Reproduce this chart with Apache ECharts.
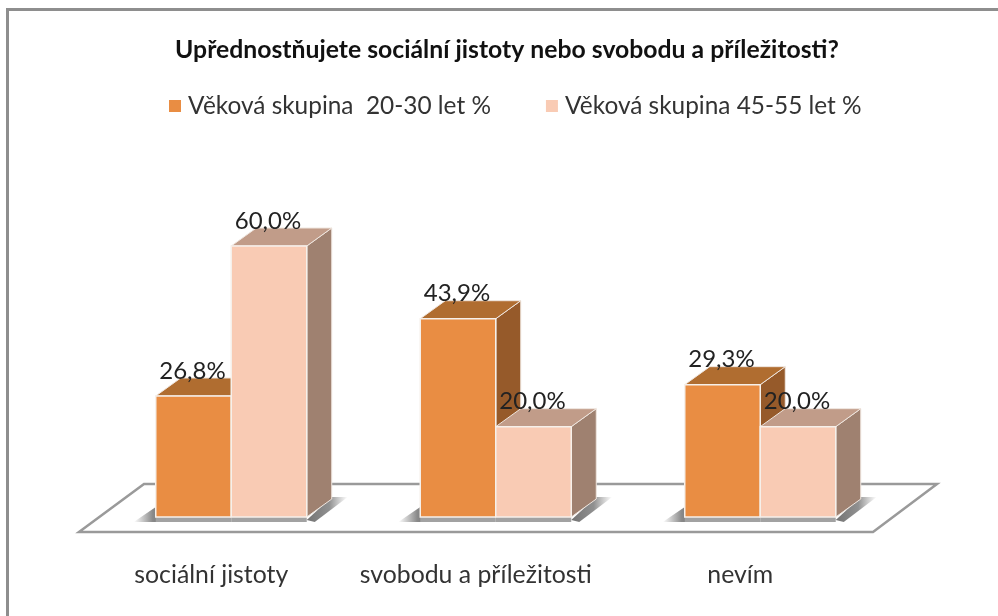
<!DOCTYPE html>
<html>
<head>
<meta charset="utf-8">
<title>chart</title>
<style>
  html, body { margin: 0; padding: 0; background: #fff; }
  #chart { width: 998px; height: 616px; }
</style>
</head>
<body>
<div id="chart"></div>
<script src="https://cdn.jsdelivr.net/npm/echarts@6/dist/echarts.min.js"></script>
<script>
const categories = ['sociální jistoty', 'svobodu a příležitosti', 'nevím'];
const younger = [26.8, 43.9, 29.3];
const older = [60.0, 20.0, 20.0];
const seriesNames = ['Věková skupina  20-30 let %', 'Věková skupina 45-55 let %'];

const fontFamily = 'Lato, sans-serif';
const barWidth = 75.5;
const depthX = 25;
const depthY = -18;

const faces = [
  { front: '#E98D43', top: '#B06D30', side: '#965A2A' },
  { front: '#F9CBB4', top: '#C19C89', side: '#9F8170' }
];

// one bar drawn as three faces plus its floor shadow
function renderBar(params, api) {
  const idx = params.seriesIndex;
  const c = faces[idx];
  const base = api.coord([api.value(0), 0]);
  const top = api.coord([api.value(0), api.value(1)]);
  const x = idx === 0 ? base[0] - barWidth : base[0];
  const x2 = x + barWidth;
  const y0 = base[1];
  const y1 = top[1];
  const children = [];

  if (idx === 0) {
    children.push({
      type: 'polygon',
      shape: { points: [[x - 22, y0 + 5], [x, y0 - 10], [x + 5, y0 + 5]] },
      style: {
        fill: { type: 'linear', x: 0, y: 0, x2: 1, y2: 0, colorStops: [
          { offset: 0, color: 'rgba(130,130,130,0)' },
          { offset: 0.7, color: 'rgba(125,125,125,0.9)' },
          { offset: 1, color: 'rgba(120,120,120,1)' }
        ] }
      }
    });
  } else {
    children.push({
      type: 'polygon',
      shape: { points: [[x2, y0 + 3], [x2 + depthX, y0 + depthY - 2], [x2 + depthX + 16, y0 + depthY - 2], [x2 + 8, y0 + 5]] },
      style: {
        fill: { type: 'linear', x: 0, y: 0, x2: 1, y2: 0, colorStops: [
          { offset: 0, color: 'rgba(115,115,115,1)' },
          { offset: 0.55, color: 'rgba(125,125,125,0.85)' },
          { offset: 1, color: 'rgba(140,140,140,0)' }
        ] }
      }
    });
  }
  children.push({
    type: 'rect',
    shape: { x: x, y: y0, width: barWidth, height: 5 },
    style: { fill: '#A2A2A2' }
  });

  // side, top, front
  children.push({
    type: 'polygon',
    shape: { points: [[x2, y1], [x2 + depthX, y1 + depthY], [x2 + depthX, y0 + depthY], [x2, y0]] },
    style: { fill: c.side, stroke: '#EFE6DF', lineWidth: 1 }
  });
  children.push({
    type: 'polygon',
    shape: { points: [[x, y1], [x + depthX, y1 + depthY], [x2 + depthX, y1 + depthY], [x2, y1]] },
    style: { fill: c.top, stroke: '#EFE6DF', lineWidth: 1 }
  });
  children.push({
    type: 'rect',
    shape: { x: x, y: y1, width: barWidth, height: y0 - y1 },
    style: { fill: c.front, stroke: '#F6F0EA', lineWidth: 1.5 }
  });
  children.push({
    type: 'text',
    z2: 50,
    style: {
      x: x + barWidth / 2 - 1,
      y: y1 - 25,
      text: api.value(1).toFixed(1).replace('.', ',') + '%',
      font: '24px ' + fontFamily,
      fill: '#222',
      align: 'center',
      verticalAlign: 'middle'
    }
  });
  return { type: 'group', children: children };
}

const chart = echarts.init(document.getElementById('chart'));

chart.setOption({
  animation: false,
  backgroundColor: '#fff',
  title: {
    text: 'Upřednostňujete sociální jistoty nebo svobodu a příležitosti?',
    left: 502,
    top: 33,
    textAlign: 'center',
    textStyle: { fontFamily: fontFamily, fontSize: 24.75, fontWeight: 'bold', color: '#111' }
  },
  legend: {
    left: 164,
    top: 89,
    itemWidth: 12,
    itemHeight: 12,
    itemGap: 55,
    icon: 'rect',
    textStyle: { fontFamily: fontFamily, fontSize: 24.4, color: '#333', padding: [0, 0, 0, 2] },
    data: seriesNames
  },
  grid: { left: 99, top: 246, width: 793.5, height: 271 },
  xAxis: {
    type: 'category',
    data: categories,
    axisLine: { show: false },
    axisTick: { show: false },
    axisLabel: {
      margin: 46,
      padding: [0, 40, 0, 0],
      interval: 0,
      fontFamily: fontFamily,
      fontSize: 24.8,
      color: '#333'
    }
  },
  yAxis: { type: 'value', min: 0, max: 60, show: false, splitLine: { show: false } },
  series: [
    {
      name: seriesNames[0],
      type: 'custom',
      renderItem: renderBar,
      itemStyle: { color: faces[0].front },
      encode: { x: 0, y: 1 },
      data: categories.map((c, i) => [i, younger[i]])
    },
    {
      name: seriesNames[1],
      type: 'custom',
      renderItem: renderBar,
      itemStyle: { color: faces[1].front },
      encode: { x: 0, y: 1 },
      data: categories.map((c, i) => [i, older[i]])
    }
  ],
  graphic: [
    {
      type: 'polygon',
      silent: true,
      z: -1,
      shape: { points: [[79, 532], [144, 484], [937, 484], [873, 532]] },
      style: { fill: '#fff', stroke: '#9A9A9A', lineWidth: 2.5 }
    },
    {
      type: 'polyline',
      silent: true,
      z: -1,
      shape: { points: [[7.5, 616], [7.5, 9.5], [998, 9.5]] },
      style: { fill: 'none', stroke: '#8E8E8E', lineWidth: 3 }
    }
  ]
});

window.addEventListener('resize', () => {
  chart.resize();
});
</script>
</body>
</html>
